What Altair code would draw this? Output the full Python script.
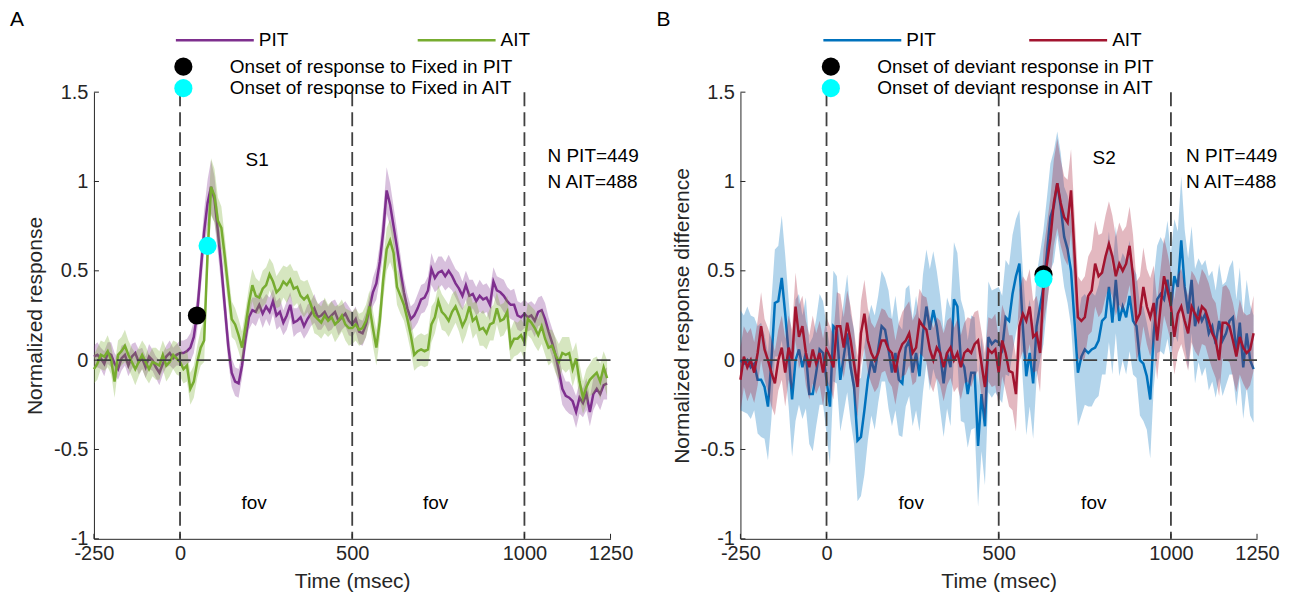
import altair as alt
import pandas as pd

FONT = "Liberation Sans"

# time axis (ms), one value every 10 ms
time_ms = list(range(-250, 1250, 10))

# ---------------- Panel A ----------------
a_pit = [
    0.02, 0.03, 0.01, -0.02, 0.04, 0.03, -0.02, -0.05, 0.01, 0.03,
    -0.03, 0.02, 0.04, -0.01, 0.01, -0.04, 0.02, 0.00, -0.04, -0.07,
    -0.02, 0.02, 0.04, 0.01, 0.03, 0.04, 0.04, 0.05, 0.07, 0.13,
    0.27, 0.50, 0.72, 0.88, 0.97, 0.90, 0.72, 0.52, 0.30, 0.08,
    -0.07, -0.12, -0.13, -0.03, 0.12, 0.24, 0.28, 0.27, 0.31, 0.26,
    0.30, 0.27, 0.33, 0.25, 0.27, 0.21, 0.25, 0.31, 0.21, 0.22,
    0.24, 0.19, 0.23, 0.26, 0.29, 0.24, 0.25, 0.27, 0.23, 0.25,
    0.27, 0.22, 0.24, 0.26, 0.22, 0.20, 0.23, 0.16, 0.15, 0.20,
    0.29, 0.38, 0.43, 0.55, 0.72, 0.95, 0.87, 0.75, 0.63, 0.50,
    0.38, 0.29, 0.23, 0.25, 0.29, 0.34, 0.35, 0.39, 0.51, 0.46,
    0.49, 0.50, 0.47, 0.50, 0.47, 0.43, 0.40, 0.36, 0.42, 0.36,
    0.37, 0.33, 0.36, 0.34, 0.35, 0.31, 0.44, 0.39, 0.38, 0.36,
    0.33, 0.31, 0.31, 0.25, 0.24, 0.26, 0.24, 0.25, 0.22, 0.27,
    0.28, 0.23, 0.16, 0.10, 0.03, -0.06, -0.16, -0.20, -0.21, -0.23,
    -0.29, -0.21, -0.24, -0.19, -0.29, -0.19, -0.16, -0.19, -0.14, -0.13,
]
a_pit_sem = [
    0.06, 0.07, 0.06, 0.07, 0.06, 0.07, 0.06, 0.06, 0.07, 0.06,
    0.06, 0.07, 0.06, 0.07, 0.06, 0.06, 0.07, 0.06, 0.06, 0.07,
    0.06, 0.06, 0.07, 0.06, 0.06, 0.07, 0.07, 0.07, 0.08, 0.09,
    0.10, 0.11, 0.12, 0.13, 0.15, 0.13, 0.12, 0.11, 0.10, 0.09,
    0.08, 0.08, 0.08, 0.07, 0.07, 0.07, 0.07, 0.08, 0.07, 0.08,
    0.07, 0.08, 0.07, 0.08, 0.08, 0.07, 0.08, 0.07, 0.08, 0.07,
    0.08, 0.07, 0.08, 0.07, 0.08, 0.07, 0.08, 0.07, 0.07, 0.08,
    0.07, 0.08, 0.07, 0.07, 0.08, 0.07, 0.07, 0.07, 0.07, 0.07,
    0.07, 0.08, 0.09, 0.10, 0.12, 0.13, 0.12, 0.11, 0.10, 0.09,
    0.08, 0.08, 0.07, 0.07, 0.08, 0.08, 0.08, 0.08, 0.09, 0.08,
    0.09, 0.08, 0.08, 0.09, 0.08, 0.08, 0.09, 0.08, 0.08, 0.09,
    0.08, 0.08, 0.09, 0.08, 0.08, 0.09, 0.08, 0.08, 0.08, 0.09,
    0.08, 0.08, 0.09, 0.08, 0.08, 0.08, 0.08, 0.08, 0.09, 0.08,
    0.08, 0.09, 0.08, 0.08, 0.09, 0.08, 0.09, 0.08, 0.09, 0.08,
    0.09, 0.09, 0.08, 0.09, 0.08, 0.09, 0.08, 0.09, 0.08, 0.09,
]
a_ait = [
    -0.05, -0.02, 0.03, 0.02, 0.05, 0.00, -0.12, 0.03, 0.05, 0.08,
    0.03, -0.01, -0.05, -0.01, 0.03, -0.01, -0.05, -0.01, -0.02, -0.03,
    0.03, -0.03, -0.01, 0.03, 0.01, -0.01, -0.05, -0.03, -0.16, -0.12,
    -0.01, 0.07, 0.11, 0.60, 0.97, 0.92, 0.78, 0.74, 0.58, 0.40,
    0.23, 0.20, 0.14, 0.07, 0.19, 0.32, 0.42, 0.36, 0.35, 0.40,
    0.42, 0.48, 0.44, 0.38, 0.40, 0.44, 0.42, 0.45, 0.40, 0.41,
    0.36, 0.34, 0.36, 0.31, 0.25, 0.23, 0.21, 0.25, 0.22, 0.24,
    0.20, 0.22, 0.25, 0.20, 0.18, 0.18, 0.20, 0.17, 0.18, 0.22,
    0.30, 0.18, 0.07, 0.22, 0.45, 0.62, 0.67, 0.60, 0.41, 0.36,
    0.31, 0.23, 0.14, 0.03, 0.05, 0.06, 0.05, 0.06, 0.20, 0.24,
    0.33, 0.27, 0.25, 0.22, 0.27, 0.30, 0.25, 0.19, 0.23, 0.30,
    0.22, 0.24, 0.17, 0.18, 0.15, 0.20, 0.21, 0.29, 0.22, 0.23,
    0.27, 0.08, 0.12, 0.12, 0.14, 0.10, 0.23, 0.21, 0.18, 0.14,
    0.19, 0.12, 0.07, 0.08, 0.03, -0.01, 0.04, 0.03, 0.04, -0.05,
    0.01, -0.12, -0.21, -0.15, -0.11, -0.09, -0.07, -0.12, -0.04, -0.10,
]
a_ait_sem = [
    0.08, 0.09, 0.08, 0.08, 0.09, 0.08, 0.09, 0.08, 0.08, 0.09,
    0.08, 0.08, 0.09, 0.08, 0.08, 0.09, 0.08, 0.08, 0.09, 0.08,
    0.08, 0.09, 0.08, 0.08, 0.09, 0.08, 0.08, 0.09, 0.09, 0.09,
    0.09, 0.10, 0.12, 0.14, 0.16, 0.15, 0.13, 0.12, 0.11, 0.10,
    0.10, 0.09, 0.09, 0.09, 0.09, 0.09, 0.09, 0.10, 0.09, 0.10,
    0.10, 0.09, 0.10, 0.09, 0.10, 0.09, 0.10, 0.09, 0.10, 0.09,
    0.09, 0.10, 0.09, 0.09, 0.10, 0.09, 0.09, 0.10, 0.09, 0.09,
    0.10, 0.09, 0.09, 0.09, 0.10, 0.09, 0.09, 0.09, 0.09, 0.09,
    0.09, 0.10, 0.10, 0.10, 0.11, 0.12, 0.12, 0.11, 0.10, 0.10,
    0.09, 0.09, 0.09, 0.09, 0.09, 0.09, 0.09, 0.09, 0.10, 0.09,
    0.09, 0.10, 0.09, 0.09, 0.10, 0.09, 0.09, 0.10, 0.09, 0.09,
    0.10, 0.09, 0.09, 0.10, 0.09, 0.09, 0.10, 0.09, 0.09, 0.09,
    0.09, 0.09, 0.10, 0.09, 0.09, 0.10, 0.09, 0.09, 0.10, 0.09,
    0.10, 0.09, 0.10, 0.09, 0.10, 0.10, 0.09, 0.10, 0.09, 0.10,
    0.09, 0.10, 0.09, 0.10, 0.09, 0.10, 0.09, 0.10, 0.09, 0.10,
]

# ---------------- Panel B ----------------
b_pit = [
    0.00, -0.02, 0.00, -0.04, -0.02, -0.11, -0.11, -0.15, -0.26, 0.00,
    0.32, 0.33, 0.46, 0.26, 0.04, -0.22, 0.00, 0.06, -0.04, 0.04,
    -0.19, -0.19, -0.07, 0.06, 0.04, -0.11, -0.26, 0.19, 0.17, -0.11,
    0.02, 0.15, -0.04, -0.15, -0.45, -0.43, -0.28, -0.11, 0.00, -0.07,
    0.06, 0.19, 0.17, 0.06, -0.07, 0.04, -0.11, -0.13, 0.07, 0.11,
    -0.07, 0.04, -0.09, 0.15, 0.30, 0.17, 0.28, 0.19, 0.04, -0.13,
    0.04, -0.04, 0.34, 0.30, 0.00, -0.04, -0.19, -0.07, -0.07, -0.48,
    -0.19, -0.37, 0.13, 0.09, 0.11, 0.10, 0.06, 0.24, 0.22, 0.37,
    0.47, 0.54, 0.19, -0.09, 0.04, -0.13, 0.19, 0.30, 0.41, 0.60,
    0.80, 0.86, 0.99, 0.86, 0.69, 0.62, 0.50, 0.22, -0.07, 0.02,
    0.06, 0.04, 0.06, 0.07, 0.11, 0.22, 0.24, 0.41, 0.21, 0.45,
    0.22, 0.30, 0.24, 0.36, 0.22, 0.19, 0.00, -0.02, -0.09, -0.22,
    0.15, 0.34, 0.37, 0.34, 0.45, 0.30, 0.47, 0.41, 0.67, 0.41,
    0.26, 0.45, 0.19, 0.28, 0.22, 0.26, 0.15, 0.19, 0.09, 0.22,
    0.11, 0.15, 0.22, 0.24, 0.04, 0.21, -0.04, 0.15, 0.00, -0.05,
]
b_pit_sem = [
    0.28, 0.27, 0.30, 0.29, 0.26, 0.30, 0.32, 0.29, 0.30, 0.33,
    0.30, 0.31, 0.35, 0.33, 0.30, 0.32, 0.34, 0.31, 0.29, 0.31,
    0.28, 0.32, 0.30, 0.31, 0.29, 0.30, 0.33, 0.31, 0.30, 0.29,
    0.31, 0.33, 0.30, 0.32, 0.34, 0.33, 0.36, 0.34, 0.31, 0.32,
    0.30, 0.31, 0.29, 0.33, 0.30, 0.32, 0.31, 0.30, 0.33, 0.31,
    0.30, 0.32, 0.31, 0.33, 0.32, 0.34, 0.33, 0.31, 0.32, 0.30,
    0.31, 0.33, 0.32, 0.30, 0.34, 0.31, 0.30, 0.32, 0.31, 0.34,
    0.32, 0.33, 0.31, 0.30, 0.29, 0.31, 0.30, 0.32, 0.31, 0.33,
    0.32, 0.30, 0.31, 0.33, 0.30, 0.31, 0.29, 0.30, 0.32, 0.31,
    0.30, 0.31, 0.29, 0.30, 0.28, 0.30, 0.31, 0.32, 0.30, 0.33,
    0.31, 0.30, 0.32, 0.29, 0.31, 0.30, 0.32, 0.31, 0.29, 0.30,
    0.31, 0.30, 0.32, 0.31, 0.30, 0.29, 0.31, 0.32, 0.30, 0.33,
    0.31, 0.30, 0.32, 0.31, 0.33, 0.30, 0.32, 0.31, 0.36, 0.32,
    0.31, 0.30, 0.32, 0.29, 0.31, 0.30, 0.32, 0.31, 0.30, 0.32,
    0.31, 0.29, 0.30, 0.32, 0.30, 0.31, 0.29, 0.30, 0.31, 0.30,
]
b_ait = [
    -0.11, 0.02, -0.04, 0.00, -0.07, 0.04, 0.19, 0.06, 0.00, -0.07,
    -0.13, 0.00, 0.07, -0.07, 0.07, 0.00, 0.30, 0.13, 0.19, 0.04,
    -0.04, 0.06, -0.02, 0.04, -0.07, 0.06, 0.02, -0.04, 0.19, 0.19,
    0.07, 0.21, 0.11, -0.02, -0.15, 0.15, 0.26, 0.11, 0.04, 0.00,
    0.04, 0.11, 0.11, 0.06, 0.04, -0.07, 0.04, 0.09, 0.11, 0.15,
    0.04, 0.07, 0.22, 0.19, 0.17, 0.06, 0.00, 0.07, 0.04, -0.04,
    0.04, 0.07, 0.00, 0.04, -0.04, 0.04, 0.06, 0.04, 0.09, 0.11,
    -0.02, -0.15, 0.06, 0.04, 0.06, -0.07, 0.11, 0.04, -0.06, -0.07,
    -0.19, 0.19, 0.26, 0.22, 0.30, 0.13, 0.15, 0.04, 0.41, 0.54,
    0.68, 0.88, 0.99, 0.88, 0.80, 0.77, 0.95, 0.60, 0.24, 0.22,
    0.24, 0.36, 0.39, 0.54, 0.47, 0.49, 0.58, 0.65, 0.58, 0.47,
    0.54, 0.50, 0.54, 0.64, 0.47, 0.22, 0.26, 0.41, 0.30, 0.24,
    0.32, 0.11, 0.30, 0.47, 0.39, 0.30, 0.13, 0.26, 0.30, 0.22,
    0.15, 0.30, 0.26, 0.22, 0.30, 0.28, 0.22, 0.15, 0.11, 0.00,
    0.21, 0.21, 0.19, 0.11, 0.02, 0.13, 0.07, 0.04, 0.06, 0.15,
]
b_ait_sem = [
    0.18, 0.17, 0.19, 0.18, 0.17, 0.18, 0.19, 0.17, 0.18, 0.19,
    0.18, 0.17, 0.18, 0.19, 0.18, 0.17, 0.19, 0.18, 0.17, 0.18,
    0.18, 0.19, 0.17, 0.18, 0.19, 0.18, 0.17, 0.18, 0.19, 0.18,
    0.17, 0.18, 0.19, 0.18, 0.17, 0.18, 0.19, 0.18, 0.17, 0.18,
    0.19, 0.18, 0.17, 0.18, 0.19, 0.18, 0.17, 0.18, 0.19, 0.18,
    0.18, 0.19, 0.18, 0.17, 0.18, 0.19, 0.18, 0.17, 0.18, 0.19,
    0.18, 0.17, 0.18, 0.19, 0.18, 0.17, 0.18, 0.19, 0.18, 0.17,
    0.18, 0.19, 0.18, 0.19, 0.20, 0.19, 0.20, 0.21, 0.20, 0.21,
    0.21, 0.20, 0.21, 0.22, 0.21, 0.20, 0.21, 0.22, 0.21, 0.22,
    0.23, 0.24, 0.25, 0.24, 0.23, 0.24, 0.23, 0.22, 0.23, 0.22,
    0.23, 0.22, 0.23, 0.24, 0.23, 0.22, 0.23, 0.24, 0.23, 0.22,
    0.23, 0.22, 0.21, 0.22, 0.23, 0.22, 0.21, 0.22, 0.21, 0.22,
    0.21, 0.22, 0.21, 0.22, 0.21, 0.20, 0.21, 0.22, 0.21, 0.20,
    0.21, 0.20, 0.21, 0.20, 0.21, 0.20, 0.21, 0.20, 0.21, 0.20,
    0.20, 0.21, 0.20, 0.21, 0.20, 0.21, 0.20, 0.21, 0.20, 0.21,
]

series_names = ["PIT", "AIT"]
a_colors = ["#7E2F8E", "#77AC30"]
b_colors = ["#0072BD", "#A2142F"]

a_onset_labels = ["Onset of response to Fixed in PIT", "Onset of response to Fixed in AIT"]
a_onset_t = [49, 80]
a_onset_v = [0.25, 0.64]
b_onset_labels = ["Onset of deviant response in PIT", "Onset of deviant response in AIT"]
b_onset_t = [630, 630]
b_onset_v = [0.48, 0.455]
onset_colors = ["#000000", "#00FFFF"]

a_text = ["S1", "N PIT=449", "N AIT=488", "fov", "fov"]
a_text_t = [224, 1067, 1067, 215, 742]
a_text_v = [1.12, 1.14, 0.995, -0.80, -0.80]
b_text = ["S2", "N PIT=449", "N AIT=488", "fov", "fov"]
b_text_t = [806, 1044, 1044, 246, 776]
b_text_v = [1.13, 1.14, 0.995, -0.80, -0.80]
text_align = ["center", "left", "left", "center", "center"]

event_times = [0, 500, 1000]
x_ticks = [-250, 0, 500, 1000, 1250]
y_ticks = [-1, -0.5, 0, 0.5, 1, 1.5]

for arr in (a_pit, a_pit_sem, a_ait, a_ait_sem, b_pit, b_pit_sem, b_ait, b_ait_sem):
    assert len(arr) == len(time_ms), len(arr)

W, H = 517, 447
AX = "#262626"
LINE_SYMBOL = "M-4,0L4,0"   # wide flat stroke used as the legend line sample
LINE_SYMBOL_SIZE = 380


def series_frame(values, sem, name):
    return pd.DataFrame({
        "t": time_ms,
        "v": values,
        "lo": [v - s for v, s in zip(values, sem)],
        "hi": [v + s for v, s in zip(values, sem)],
        "series": name,
    })


def panel(letter, pit, pit_sem, ait, ait_sem, colors, onset_labels, onset_t, onset_v,
          texts, texts_t, texts_v, ytitle, lx_line, lcol_pad, lx_dot):
    df = pd.concat([series_frame(pit, pit_sem, "PIT"), series_frame(ait, ait_sem, "AIT")])
    xs = alt.Scale(domain=[-250, 1250], nice=False, zero=False)
    ys = alt.Scale(domain=[-1, 1.5], nice=False, zero=False)
    x = alt.X("t:Q", scale=xs, axis=alt.Axis(
        values=x_ticks, title="Time (msec)", labelExpr="'' + datum.value",
        labelFlush=False, labelOverlap=False, ticks=False, grid=False,
        labelPadding=5, titlePadding=7))
    y = alt.Y("v:Q", scale=ys, axis=alt.Axis(
        values=y_ticks, title=ytitle, labelExpr="'' + datum.value",
        labelOverlap=False, ticks=False, grid=False, labelPadding=6, titlePadding=8))
    cscale = alt.Scale(domain=series_names, range=colors)
    legend = alt.Legend(
        title=None, orient="none", legendX=lx_line, legendY=-63, direction="horizontal",
        symbolType=LINE_SYMBOL, symbolSize=LINE_SYMBOL_SIZE, symbolStrokeWidth=2.5,
        labelFontSize=19, labelFont=FONT, labelColor="#000000", labelOffset=33,
        labelLimit=400, columnPadding=lcol_pad, padding=0)
    base = alt.Chart(df)
    layers = []
    for name, col in zip(series_names, colors):
        sub = base.transform_filter(alt.datum.series == name)
        layers.append(sub.mark_area(color=col, opacity=0.3).encode(
            x=x, y=alt.Y("lo:Q", scale=ys), y2="hi:Q"))
        layers.append(sub.mark_line(strokeWidth=2.5).encode(
            x=x, y=y, color=alt.Color("series:N", scale=cscale, legend=legend)))

    rules_v = alt.Chart(pd.DataFrame({"t": event_times})).mark_rule(
        color="#404040", strokeWidth=1.8, strokeDash=[14, 6]).encode(x=alt.X("t:Q", scale=xs))
    rule_h = alt.Chart(pd.DataFrame({"v": [0]})).mark_rule(
        color="#404040", strokeWidth=1.8, strokeDash=[14, 6]).encode(y=alt.Y("v:Q", scale=ys))
    yt = alt.Chart(pd.DataFrame({"v": y_ticks})).mark_rule(color=AX, strokeWidth=1).encode(
        y=alt.Y("v:Q", scale=ys), x=alt.value(0), x2=alt.value(5))
    xt = alt.Chart(pd.DataFrame({"t": x_ticks})).mark_rule(color=AX, strokeWidth=1).encode(
        x=alt.X("t:Q", scale=xs), y=alt.value(H), y2=alt.value(H - 5))

    odf = pd.DataFrame({"t": onset_t, "v": onset_v, "label": onset_labels})
    dots = alt.Chart(odf).mark_circle(size=330, opacity=1).encode(
        x=alt.X("t:Q", scale=xs), y=alt.Y("v:Q", scale=ys),
        fill=alt.Fill("label:N", scale=alt.Scale(domain=onset_labels, range=onset_colors),
                      legend=alt.Legend(
                          title=None, orient="none", legendX=lx_dot, legendY=-35,
                          direction="vertical", symbolType="circle", symbolSize=330,
                          symbolStrokeWidth=0, symbolOpacity=1, labelFontSize=19,
                          labelFont=FONT, labelColor="#000000", labelOffset=37,
                          labelLimit=500, rowPadding=1.5, padding=0)),
        order=alt.Order("label:N", sort="descending"))

    tdf = pd.DataFrame({"t": texts_t, "v": texts_v, "text": texts, "align": text_align})
    txt_c = alt.Chart(tdf).transform_filter(alt.datum.align == "center").mark_text(
        fontSize=19, font=FONT, color="#000000", align="center", baseline="middle").encode(
        x=alt.X("t:Q", scale=xs), y=alt.Y("v:Q", scale=ys), text="text:N")
    txt_l = alt.Chart(tdf).transform_filter(alt.datum.align == "left").mark_text(
        fontSize=19, font=FONT, color="#000000", align="left", baseline="middle").encode(
        x=alt.X("t:Q", scale=xs), y=alt.Y("v:Q", scale=ys), text="text:N")

    tag = alt.Chart(pd.DataFrame({"label": [letter]})).mark_text(
        fontSize=21, font=FONT, color="#000000", align="center", baseline="middle").encode(
        text="label:N", x=alt.value(-77), y=alt.value(-72))

    return alt.layer(*layers, rules_v, rule_h, yt, xt, dots, txt_c, txt_l, tag).properties(
        width=W, height=H)


pa = panel("A", a_pit, a_pit_sem, a_ait, a_ait_sem, a_colors, a_onset_labels, a_onset_t, a_onset_v,
           a_text, a_text_t, a_text_v, "Normalized response", 110, 124, 80)
pb = panel("B", b_pit, b_pit_sem, b_ait, b_ait_sem, b_colors, b_onset_labels, b_onset_t, b_onset_v,
           b_text, b_text_t, b_text_v, "Normalized response difference", 111, 88, 81)

chart = alt.hconcat(pa, pb, spacing=130, bounds="flush").resolve_scale(
    color="independent", fill="independent").resolve_legend(
    color="independent", fill="independent").properties(
    padding={"left": 1, "top": 1, "right": 5, "bottom": 0}).configure_view(
    stroke=None).configure_axis(
    domainColor=AX, domainWidth=1, labelColor=AX, titleColor=AX, labelFont=FONT,
    titleFont=FONT, labelFontSize=20, titleFontSize=21, titleFontWeight="normal")

chart.save("out.html", embed_options={"renderer": "svg", "actions": False})
